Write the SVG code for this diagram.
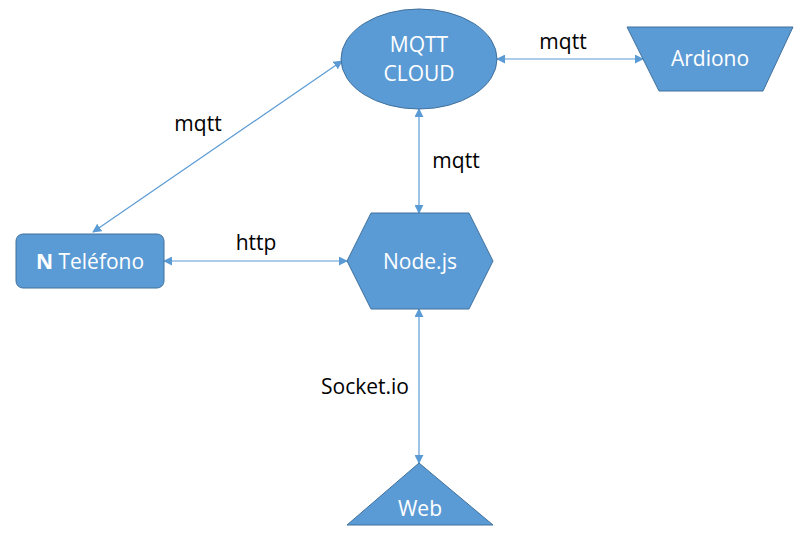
<svg xmlns="http://www.w3.org/2000/svg" width="812" height="542" viewBox="0 0 812 542">
<style>
.shape{fill:#5B9BD5;stroke:#41719C;stroke-width:1}
.lbl{font-family:"Open Sans","Liberation Sans",Arial,sans-serif;font-size:21px;fill:#fff;text-anchor:middle}
.edge{font-family:"Open Sans","Liberation Sans",Arial,sans-serif;font-size:21px;fill:#000;text-anchor:middle}
.conn{stroke:#5B9BD5;stroke-width:1.2;fill:none;marker-start:url(#arr);marker-end:url(#arr)}
</style>
<defs>
<marker id="arr" viewBox="0 0 10 10" refX="9" refY="5" markerWidth="9" markerHeight="9" markerUnits="userSpaceOnUse" orient="auto-start-reverse">
<path d="M0,0 L10,5 L0,10 z" fill="#5B9BD5"/>
</marker>
</defs>
<rect width="812" height="542" fill="#fff"/>
<g id="connectors">
<line class="conn" x1="93" y1="232" x2="342" y2="61"/>
<line class="conn" x1="497" y1="59" x2="643" y2="59"/>
<line class="conn" x1="419" y1="109" x2="419" y2="213"/>
<line class="conn" x1="164" y1="261" x2="347" y2="261"/>
<line class="conn" x1="419" y1="309" x2="419" y2="463"/>
<text class="edge" x="198" y="131">mqtt</text>
<text class="edge" x="563" y="49">mqtt</text>
<text class="edge" x="456" y="168">mqtt</text>
<text class="edge" x="256" y="250">http</text>
<text class="edge" x="365" y="394">Socket.io</text>
</g>
<g id="mqtt-cloud">
<ellipse class="shape" cx="419" cy="59" rx="78" ry="50"/>
<text class="lbl" x="419" y="52">MQTT</text>
<text class="lbl" x="419" y="81">CLOUD</text>
</g>
<g id="ardiono">
<polygon class="shape" points="627,27 793,27 763,91 659,91"/>
<text class="lbl" x="710" y="66">Ardiono</text>
</g>
<g id="telefono">
<rect class="shape" x="16" y="234" width="148" height="54" rx="7"/>
<text class="lbl" x="90" y="269"><tspan font-weight="bold">N</tspan> Teléfono</text>
</g>
<g id="nodejs">
<polygon class="shape" points="371,213 469,213 493,261 469,309 371,309 347,261"/>
<text class="lbl" x="420" y="269">Node.js</text>
</g>
<g id="web">
<polygon class="shape" points="419,463 493,525 347,525"/>
<text class="lbl" x="420" y="516">Web</text>
</g>
</svg>
